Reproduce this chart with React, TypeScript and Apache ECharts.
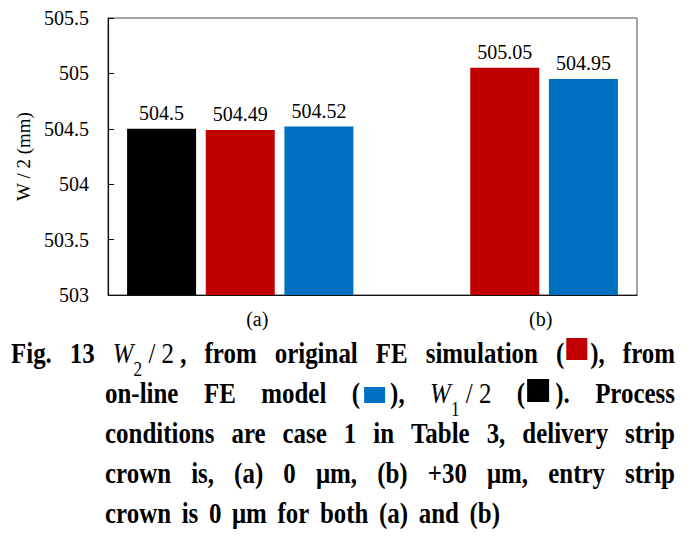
import React, { useEffect, useRef } from "react";
import * as echarts from "echarts";

// ---------- data ----------
const categories = ["(a)", "(b)"];
const w1Half = [504.5, null]; // W1/2 (black)
const feSimulation = [504.49, 505.05]; // original FE simulation (red)
const onlineModel = [504.52, 504.95]; // on-line FE model (blue)
const yMin = 503;
const yMax = 505.5;
const yStep = 0.5;
const yName = "W / 2 (mm)";

const captionLine3 = "conditions are case 1 in Table 3, delivery strip";
const captionLine4 = "crown is, (a) 0 μm, (b) +30 μm, entry strip";
const captionLine5 = "crown is 0 μm for both (a) and (b)";

// ---------- styles ----------
const BLACK = "#000000";
const RED = "#C00000";
const BLUE = "#0070C0";
const SERIF = "Liberation Serif, Times New Roman, serif";

const CAP = 29;
const SUB = 20;
const SX = 0.86;

type TextPiece = { t: string; k: "b" | "i" | "r" | "s" };
type SqPiece = { sq: string; w: number; top: number; h: number; pl: number; pr: number };
type Piece = TextPiece | SqPiece;

const sqRed: SqPiece = { sq: RED, w: 21, top: -25, h: 22, pl: 2, pr: 3 };
const sqBlue: SqPiece = { sq: BLUE, w: 21, top: -16, h: 16, pl: 4, pr: 5 };
const sqBlack: SqPiece = { sq: BLACK, w: 22, top: -24, h: 23, pl: 2, pr: 6 };

const b = (t: string): TextPiece => ({ t, k: "b" });
const words = (s: string): Piece[][] => s.split(" ").map((w) => [b(w)]);

const captionLines: { words: Piece[][]; x0: number; x1: number; base: number }[] = [
  {
    x0: 11,
    x1: 675,
    base: 363,
    words: [
      [b("Fig.")],
      [b("13")],
      [{ t: "W", k: "i" }, { t: "2", k: "s" }, { t: " / 2", k: "r" }, b(" ,")],
      [b("from")],
      [b("original")],
      [b("FE")],
      [b("simulation")],
      [b("("), sqRed, b("),")],
      [b("from")],
    ],
  },
  {
    x0: 105,
    x1: 675,
    base: 403,
    words: [
      [b("on-line")],
      [b("FE")],
      [b("model")],
      [b("("), sqBlue, b("),")],
      [{ t: "W", k: "i" }, { t: "1", k: "s" }, { t: " / 2", k: "r" }],
      [b("("), sqBlack, b(").")],
      [b("Process")],
    ],
  },
  { x0: 105, x1: 675, base: 443, words: words(captionLine3) },
  { x0: 105, x1: 675, base: 483, words: words(captionLine4) },
  { x0: 105, x1: 500, base: 523, words: words(captionLine5) },
];

function fontOf(k: string) {
  if (k === "b") return { fontWeight: "bold", fontStyle: "normal", fontSize: CAP };
  if (k === "i") return { fontWeight: "normal", fontStyle: "italic", fontSize: CAP };
  if (k === "s") return { fontWeight: "normal", fontStyle: "normal", fontSize: SUB };
  return { fontWeight: "normal", fontStyle: "normal", fontSize: CAP };
}

function buildCaption(): any[] {
  const canvas = document.createElement("canvas");
  const ctx = canvas.getContext("2d") as CanvasRenderingContext2D;
  const pieceW = (p: Piece) => {
    if ("sq" in p) return p.pl + p.w + p.pr;
    const f = fontOf(p.k);
    ctx.font = `${f.fontStyle} ${f.fontWeight} ${f.fontSize}px ${SERIF}`;
    return ctx.measureText(p.t).width * SX;
  };
  const els: any[] = [];
  for (const line of captionLines) {
    const ws = line.words.map((w) => w.reduce((s, p) => s + pieceW(p), 0));
    const total = ws.reduce((s, v) => s + v, 0);
    const gap = (line.x1 - line.x0 - total) / Math.max(1, line.words.length - 1);
    let x = line.x0;
    line.words.forEach((w) => {
      for (const p of w) {
        const pw = pieceW(p);
        if ("sq" in p) {
          els.push({
            type: "rect",
            shape: { x: x + p.pl, y: line.base + p.top, width: p.w, height: p.h },
            style: { fill: p.sq },
          });
        } else {
          const f = fontOf(p.k);
          const dy = p.k === "s" ? 13 : 0;
          els.push({
            type: "text",
            x,
            y: line.base + dy - 0.3375 * f.fontSize,
            scaleX: SX,
            style: {
              text: p.t,
              fill: "#000",
              fontFamily: SERIF,
              fontSize: f.fontSize,
              fontWeight: f.fontWeight,
              fontStyle: f.fontStyle,
              align: "left",
              verticalAlign: "middle",
            },
          });
        }
        x += pw;
      }
      x += gap;
    });
  }
  return els;
}

export default function App() {
  const ref = useRef<HTMLDivElement>(null);
  useEffect(() => {
    document.body.style.margin = "0";
    if (!ref.current) return;
    const chart = echarts.init(ref.current, null, { renderer: "svg" });
    const labelStyle = {
      show: true,
      position: "top" as const,
      distance: 6,
      color: "#000",
      fontFamily: SERIF,
      fontSize: 20,
    };
    const option: any = {
      animation: false,
      backgroundColor: "#ffffff",
      textStyle: { fontFamily: SERIF },
      grid: {
        left: 108,
        right: 58,
        top: 18,
        bottom: 252,
        show: true,
        borderColor: "#4a4a4a",
        borderWidth: 1,
        backgroundColor: "transparent",
      },
      xAxis: {
        type: "category",
        data: categories,
        axisTick: { show: false },
        axisLine: { lineStyle: { color: "#111", width: 1.2 } },
        axisLabel: {
          margin: 14,
          color: "#000",
          fontFamily: SERIF,
          fontSize: 20,
          formatter: (v: string) => (v === categories[0] ? `{a|${v}}` : `{b|${v}}`),
          rich: {
            a: { fontFamily: SERIF, fontSize: 20, color: "#000", padding: [0, 0, 0, 34] },
            b: { fontFamily: SERIF, fontSize: 20, color: "#000", padding: [0, 0, 0, 72] },
          },
        },
        splitLine: { show: false },
      },
      yAxis: {
        type: "value",
        min: yMin,
        max: yMax,
        interval: yStep,
        name: yName,
        nameLocation: "middle",
        nameGap: 71,
        nameTextStyle: { fontFamily: SERIF, fontSize: 19, color: "#000" },
        axisLine: { show: true, lineStyle: { color: "#111", width: 1.2 } },
        axisTick: { show: true, inside: true, length: 6, lineStyle: { color: "#111" } },
        axisLabel: { margin: 19, color: "#000", fontFamily: SERIF, fontSize: 20 },
        splitLine: { show: false },
      },
      series: [
        {
          type: "bar",
          name: "W1/2",
          data: w1Half,
          barWidth: 69,
          barGap: "14%",
          itemStyle: { color: BLACK },
          label: labelStyle,
        },
        {
          type: "bar",
          name: "original FE simulation",
          data: feSimulation,
          barWidth: 69,
          barGap: "14%",
          itemStyle: { color: RED },
          label: labelStyle,
        },
        {
          type: "bar",
          name: "on-line FE model",
          data: onlineModel,
          barWidth: 69,
          barGap: "14%",
          itemStyle: { color: BLUE },
          label: labelStyle,
        },
      ],
      graphic: { elements: buildCaption() },
    };
    chart.setOption(option);
    return () => chart.dispose();
  }, []);
  return <div ref={ref} style={{ width: 695, height: 547, background: "#fff" }} />;
}
